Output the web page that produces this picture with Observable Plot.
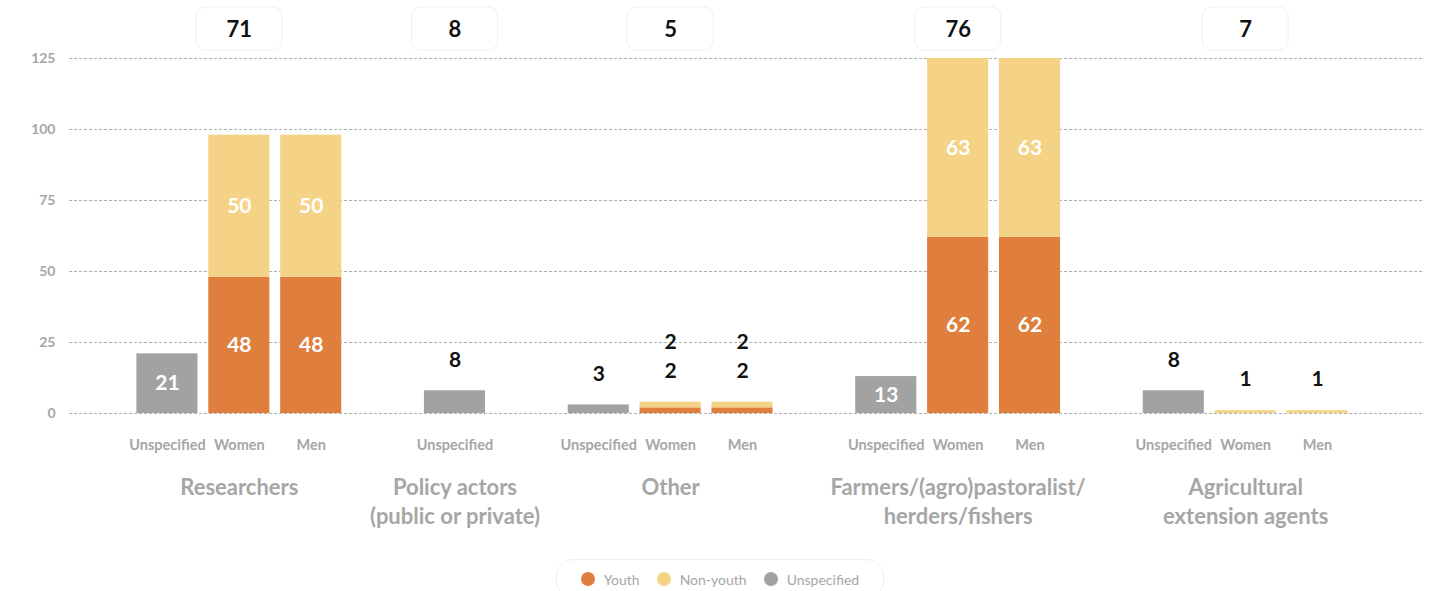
<!DOCTYPE html>
<html>
<head>
<meta charset="utf-8">
<script src="https://cdn.jsdelivr.net/npm/d3@7"></script>
<script src="https://cdn.jsdelivr.net/npm/@observablehq/plot@0.6"></script>
<style>
  html, body { margin: 0; padding: 0; background: #fff; }
  body { font-family: Lato, "Open Sans", sans-serif; width: 1440px; height: 591px; overflow: hidden; }
  #legend {
    box-sizing: border-box;
    width: 328px; height: 40px; margin: 3px auto 0;
    border: 1px solid #eeeeee; border-radius: 18px;
    display: flex; align-items: center; justify-content: center; gap: 17px;
    font-size: 14px; color: #a6a6a6;
  }
  #legend .item { display: flex; align-items: center; gap: 9px; }
  #legend .dot { width: 14px; height: 14px; border-radius: 50%; display: inline-block; }
</style>
</head>
<body>
<div id="chart"></div>
<div id="legend"></div>
<script>
// ---------- data ----------
const groupKeys = ["Researchers", "Policy", "Other", "Farmers", "Extension"];
const groupLabels = [
  "Researchers",
  "Policy actors\n(public or private)",
  "Other",
  "Farmers/(agro)pastoralist/\nherders/fishers",
  "Agricultural\nextension agents"
];
const groupTotals = [71, 8, 5, 76, 7];

const barGroup = ["Researchers", "Researchers", "Researchers", "Policy", "Other", "Other", "Other",
                  "Farmers", "Farmers", "Farmers", "Extension", "Extension", "Extension"];
const barSub = ["Unspecified", "Women", "Men", "Unspecified", "Unspecified", "Women", "Men",
                "Unspecified", "Women", "Men", "Unspecified", "Women", "Men"];
const youthValues       = [0, 48, 48, 0, 0, 2, 2, 0, 62, 62, 0, 0, 0];
const nonYouthValues    = [0, 50, 50, 0, 0, 2, 2, 0, 63, 63, 0, 1, 1];
const unspecifiedValues = [21, 0, 0, 8, 3, 0, 0, 13, 0, 0, 8, 0, 0];

const seriesNames = ["Youth", "Non-youth", "Unspecified"];
const seriesColors = ["#E07E3D", "#F5D386", "#A2A2A2"];
const yTicks = [0, 25, 50, 75, 100, 125];

// ---------- derived tables ----------
const seriesValues = [youthValues, nonYouthValues, unspecifiedValues];
const barKey = barGroup.map((g, i) => g + "|" + barSub[i]);

// x domain: bars of each group, with an empty slot between groups
const xDomain = [];
groupKeys.forEach((g, gi) => {
  barKey.forEach((k, i) => { if (barGroup[i] === g) xDomain.push(k); });
  if (gi < groupKeys.length - 1) xDomain.push("gap" + gi);
});

const middleKey = groupKeys.map(g => {
  const ks = barKey.filter((k, i) => barGroup[i] === g);
  return ks[Math.floor(ks.length / 2)];
});
const groupRows = groupKeys.map((g, i) => ({key: middleKey[i], label: groupLabels[i], total: groupTotals[i]}));

const rows = [];
barKey.forEach((k, i) => {
  seriesNames.forEach((s, si) => {
    const v = seriesValues[si][i];
    if (v > 0) rows.push({key: k, series: s, value: v});
  });
});

// labels for small segments go above the bar
const smallLabels = [];
barKey.forEach((k, i) => {
  let top = 0; seriesValues.forEach(sv => top += sv[i]);
  let n = 0;
  seriesNames.forEach((s, si) => {
    const v = seriesValues[si][i];
    if (v > 0 && v < 10) smallLabels.push({key: k, top, value: v, k: n++});
  });
});

const subRows = barKey.map((k, i) => ({key: k, sub: barSub[i]}));

const W = 1440, H = 556, MT = 58, MB = H - 413, ML = 69, MR = 18;
const textGray = "#a6a6a6";
const font = "Lato, 'Open Sans', sans-serif";

const boxesMark = (index, scales, values, dims) => {
  const x = scales.x;
  const bw = x.bandwidth ? x.bandwidth() : 0;
  const g = d3.create("svg:g");
  middleKey.forEach(k => {
    const cx = x(k) + bw / 2;
    g.append("rect")
      .attr("x", cx - 43).attr("y", dims.marginTop - 51)
      .attr("width", 86).attr("height", 43)
      .attr("rx", 9).attr("ry", 9)
      .attr("fill", "#fff").attr("stroke", "#f0f0f0");
  });
  return g.node();
};

const chart = Plot.plot({
  width: W, height: H,
  marginTop: MT, marginBottom: MB, marginLeft: ML, marginRight: MR,
  style: {fontFamily: font, background: "#fff", overflow: "visible"},
  x: {type: "band", domain: xDomain, range: [136.4, 1347.6], paddingInner: 0.15, paddingOuter: 0, round: false, axis: null},
  y: {domain: [0, 125], axis: null},
  color: {domain: seriesNames, range: seriesColors},
  marks: [
    Plot.gridY(yTicks, {stroke: "#b0b0b0", strokeOpacity: 1, strokeDasharray: "3,2", strokeWidth: 1}),
    Plot.axisY(yTicks, {tickSize: 0, tickPadding: 14, fontSize: 14, fontWeight: "bold", fill: textGray, label: null}),
    Plot.barY(rows, Plot.stackY({x: "key", y: "value", fill: "series", order: seriesNames})),
    Plot.text(rows, Plot.stackY({
      x: "key", y: "value", z: "series", order: seriesNames,
      text: d => d.value >= 10 ? String(d.value) : "",
      fill: "white", fontSize: 21, fontWeight: "bold"
    })),
    Plot.text(smallLabels.filter(d => d.k === 0), {x: "key", y: "top", text: "value", dy: -31, fill: "#111", fontSize: 21, fontWeight: "bold"}),
    Plot.text(smallLabels.filter(d => d.k === 1), {x: "key", y: "top", text: "value", dy: -60, fill: "#111", fontSize: 21, fontWeight: "bold"}),
    Plot.text(subRows, {x: "key", text: "sub", frameAnchor: "bottom", lineAnchor: "middle", dy: 32, fill: textGray, fontSize: 14.5, fontWeight: "bold"}),
    Plot.text(groupRows, {x: "key", text: "label", frameAnchor: "bottom", lineAnchor: "top", dy: 61, lineHeight: 1.32, fill: textGray, fontSize: 22, fontWeight: "bold"}),
    boxesMark,
    Plot.text(groupRows, {x: "key", text: d => String(d.total), frameAnchor: "top", lineAnchor: "middle", dy: -29, fill: "#111", fontSize: 22, fontWeight: "bold"})
  ]
});
document.getElementById("chart").appendChild(chart);

// legend
const legend = document.getElementById("legend");
seriesNames.forEach((s, i) => {
  const item = document.createElement("span");
  item.className = "item";
  const dot = document.createElement("span");
  dot.className = "dot";
  dot.style.background = seriesColors[i];
  const label = document.createElement("span");
  label.textContent = s;
  item.appendChild(dot); item.appendChild(label);
  legend.appendChild(item);
});
</script>
</body>
</html>
